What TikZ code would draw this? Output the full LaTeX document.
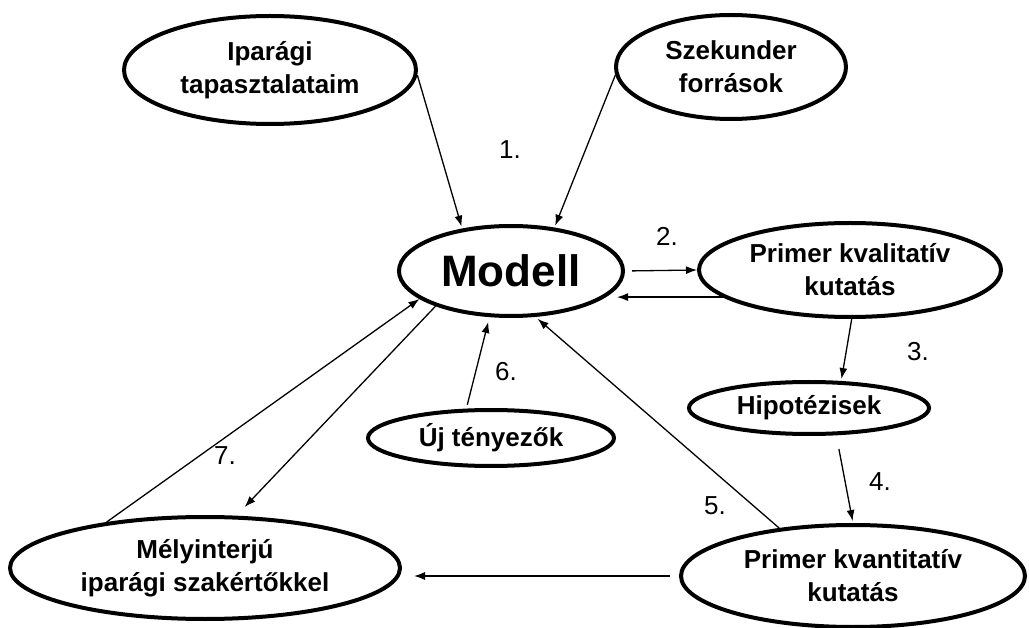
\documentclass[tikz,border=0pt]{standalone}
\usepackage{fontspec}
\setmainfont{Liberation Sans}
\usetikzlibrary{shapes.geometric,arrows.meta}

\begin{document}
\begin{tikzpicture}[x=1pt,y=-1pt,
    oval/.style={ellipse,draw,line width=4pt,inner sep=0pt,align=center,font=\fontsize{26}{33}\selectfont\bfseries},
    num/.style={font=\fontsize{26}{30}\selectfont},
    arr/.style={-{Latex[length=11pt,width=8pt]},line width=1.3pt}]
    \useasboundingbox (0,0) rectangle (1029,628);

    \node (ipar)   at (270,70)  [oval,minimum width=292,minimum height=108] {Iparági\\tapasztalataim};
    \node (szek)   at (731,67)  [oval,minimum width=230,minimum height=104] {Szekunder\\források};
    \node (modell) at (511,271) [oval,minimum width=224,minimum height=90,font=\fontsize{44}{50}\selectfont\bfseries] {Modell};
    \node (kvalit) at (850,270) [oval,minimum width=302,minimum height=94] {Primer kvalitatív\\kutatás};
    \node (hipo)   at (809,408) [oval,minimum width=240,minimum height=52] {Hipotézisek};
    \node (uj)     at (491,438) [oval,minimum width=246,minimum height=56] {Új tényezők};
    \node (mely)   at (205,568) [oval,minimum width=390,minimum height=102] {Mélyinterjú\\iparági szakértőkkel};
    \node (kvant)  at (853,576) [oval,minimum width=344,minimum height=102] {Primer kvantitatív\\kutatás};

    \node (n1) at (510,150) [num] {1.};
    \node (n2) at (667,236) [num] {2.};
    \node (n3) at (918,352) [num] {3.};
    \node (n4) at (880,482) [num] {4.};
    \node (n5) at (715,506) [num] {5.};
    \node (n6) at (506,372) [num] {6.};
    \node (n7) at (225,456) [num] {7.};

    \draw[arr,shorten >=2pt] (ipar.-2) -- (modell.139);
    \draw[arr,shorten >=2pt] (szek.184) -- (modell.45);
    \draw[arr,shorten <=7pt] (modell.east) -- (kvalit.west);
    \draw[arr,shorten >=-8pt] (kvalit.192) -- (kvalit.192 -| modell.east);
    \draw[arr,shorten >=2pt] (kvalit.-88) -- (hipo.40);
    \draw[arr,shorten <=14pt,shorten >=2pt] (hipo.-45) -- (kvant.north);
    \draw[arr,shorten >=3pt] (kvant.147) -- (modell.-62);
    \draw[arr,shorten <=9pt,shorten >=12pt] (kvant.west) -- (kvant.west -| mely.east);
    \draw[arr,shorten <=4pt,shorten >=5pt] (uj.130) -- (modell.245);
    \draw[arr] (mely.155) -- (modell.197);
    \draw[arr,shorten >=12pt] (modell.205) -- (mely.59);
\end{tikzpicture}
\end{document}
